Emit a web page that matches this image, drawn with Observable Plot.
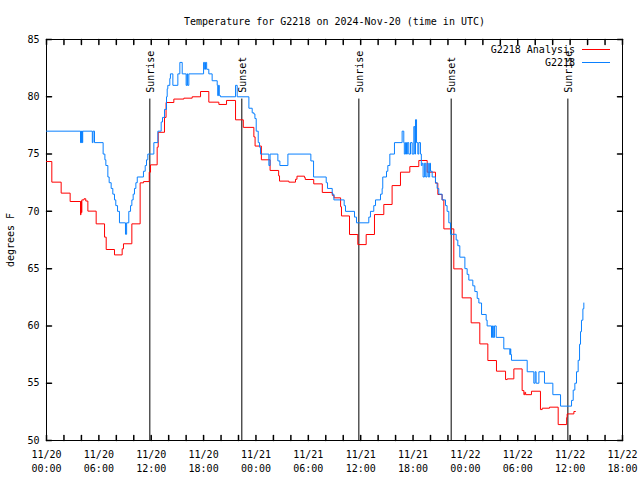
<!DOCTYPE html>
<html><head><meta charset="utf-8">
<script src="https://cdn.jsdelivr.net/npm/d3@7"></script>
<script src="https://cdn.jsdelivr.net/npm/@observablehq/plot@0.6"></script>
<style>body{margin:0;background:#fff}</style>
</head><body><div id="chart"></div>
<script>
const title = "Temperature for G2218 on 2024-Nov-20 (time in UTC)";
const yLabel = "degrees F";
const seriesNames = ["G2218 Analysis", "G2218"];
const seriesColors = ["#ff0000", "#0a80ff"];
const xTickHours = [0, 6, 12, 18, 24, 30, 36, 42, 48, 54, 60, 66];
const xTickLabels = ["11/20\n00:00", "11/20\n06:00", "11/20\n12:00", "11/20\n18:00",
  "11/21\n00:00", "11/21\n06:00", "11/21\n12:00", "11/21\n18:00",
  "11/22\n00:00", "11/22\n06:00", "11/22\n12:00", "11/22\n18:00"];
const xMinorHours = d3.range(0, 67, 2);
const yTicks = [50, 55, 60, 65, 70, 75, 80, 85];
const sunHours = [11.84, 22.38, 35.79, 46.37, 59.74];
const sunLabels = ["Sunrise", "Sunset", "Sunrise", "Sunset", "Sunrise"];

// hours since 2024-11-20 00:00 UTC
const analysisHours = [0, 0.61, 1.68, 2.71, 3.90, 3.95, 4.00, 4.05, 4.30, 4.50, 4.74, 5.69, 6.65, 6.84, 7.79, 8.67, 8.82, 9.78, 10.73, 11.12, 11.77, 11.92, 12.68, 12.80, 13.52, 13.70, 14.59, 15.74, 16.69, 17.65, 18.60, 19.75, 20.63, 21.66, 22.55, 23.76, 23.90, 24.62, 25.62, 26.60, 26.70, 27.77, 28.53, 28.70, 29.56, 29.65, 30.62, 31.60, 32.75, 32.95, 33.70, 33.80, 34.72, 35.67, 36.63, 37.58, 38.65, 39.60, 40.56, 41.63, 42.66, 43.62, 44.57, 44.84, 45.33, 45.53, 46.67, 47.63, 48.66, 49.65, 50.57, 51.56, 52.60, 52.79, 53.55, 54.50, 54.70, 54.80, 54.90, 55.57, 56.60, 56.80, 57.64, 58.63, 59.60, 59.66, 60.43, 60.62];
const analysisTemps = [74.35, 72.55, 71.59, 70.86, 69.7, 70.9, 69.9, 71.0, 71.1, 70.9, 70.02, 68.91, 67.75, 66.67, 66.2, 66.73, 67.17, 68.91, 72.49, 72.6, 73.42, 74.06, 75.6, 76.9, 78.2, 79.5, 79.8, 79.88, 80.0, 80.46, 79.53, 79.33, 79.68, 77.99, 77.33, 76.5, 75.7, 74.5, 73.57, 73.1, 72.64, 72.55, 72.8, 73.07, 72.95, 72.78, 72.4, 71.65, 71.4, 71.18, 70.4, 69.6, 67.98, 67.1, 67.98, 69.72, 70.6, 72.25, 73.42, 73.91, 74.44, 73.42, 72.46, 71.47, 71.0, 68.47, 64.98, 62.45, 60.27, 58.43, 56.98, 56.05, 55.32, 55.38, 56.25, 54.36, 54.0, 54.2, 54.0, 54.3, 52.7, 52.82, 52.91, 51.39, 52.0, 52.32, 52.53, 52.53];

const obsHours = [0, 3.90, 3.95, 4.00, 4.05, 4.10, 4.15, 5.25, 5.33, 5.50, 6.49, 6.69, 6.80, 7.03, 7.18, 7.41, 7.60, 7.79, 7.94, 8.14, 8.36, 9.05, 9.18, 9.43, 9.63, 9.78, 9.93, 10.08, 10.24, 10.40, 11.11, 11.31, 11.46, 11.61, 12.30, 12.76, 13.14, 13.29, 13.52, 13.75, 13.83, 13.90, 14.13, 14.20, 14.48, 15.05, 15.28, 15.55, 16.00, 16.10, 16.17, 16.31, 18.00, 18.12, 18.22, 18.35, 18.60, 18.98, 19.56, 19.62, 19.70, 19.80, 19.94, 21.66, 21.85, 23.19, 23.57, 23.76, 23.88, 24.03, 24.26, 24.41, 24.52, 25.48, 25.62, 26.51, 26.74, 27.66, 30.29, 30.60, 32.05, 32.20, 32.74, 32.93, 34.11, 34.26, 35.29, 35.52, 36.93, 37.12, 37.50, 37.70, 38.27, 38.46, 38.53, 38.96, 39.11, 39.34, 39.87, 40.75, 40.94, 41.00, 41.13, 41.25, 41.35, 41.51, 41.71, 41.90, 42.09, 42.20, 42.28, 42.40, 42.55, 42.66, 42.85, 42.95, 43.04, 43.15, 43.30, 43.45, 43.60, 43.75, 43.90, 44.00, 44.19, 44.57, 44.76, 44.95, 45.33, 45.72, 45.90, 46.10, 46.29, 46.94, 47.13, 47.36, 47.94, 48.20, 48.39, 48.85, 49.08, 49.35, 49.54, 49.85, 50.38, 50.49, 50.99, 51.10, 51.20, 51.33, 51.53, 52.40, 53.09, 53.15, 53.20, 53.28, 55.08, 55.84, 55.99, 56.10, 56.42, 57.06, 58.02, 58.90, 60.16, 60.35, 60.54, 60.73, 60.92, 61.08, 61.19, 61.30, 61.46, 61.57];
const obsTemps = [77, 76, 77, 76, 77, 76, 77, 76, 77, 76, 75, 74.5, 74, 73, 72.5, 72, 71.5, 71, 70.5, 70, 69, 68, 69, 70, 70.5, 71, 71.5, 72, 72.5, 73, 73.5, 74, 74.5, 75, 76, 77, 77.8, 78.2, 78.9, 80, 80.7, 81, 81.6, 82, 81, 82, 83, 82, 81, 82, 81, 82, 83, 82.4, 83, 82.4, 82, 81.4, 81, 80.1, 81, 80.1, 80, 81, 80, 79, 78.6, 78.5, 78.1, 77, 76, 75.6, 75, 74, 75, 74.4, 74, 75, 74.4, 73, 72.5, 72, 71.5, 71, 70.5, 70, 69.5, 69, 69.5, 70, 70.5, 71, 71.5, 72, 73, 73.5, 74, 75, 76, 77, 76, 75, 76, 75, 76, 75, 76, 75, 77.4, 75, 78, 76, 75, 76, 75, 74, 74.2, 73, 74.2, 73, 74.2, 73, 74.2, 73.5, 73, 72.5, 72, 71.5, 71, 70.5, 70, 69, 68, 67.5, 67, 66, 65, 64.5, 64, 63.5, 63, 62.4, 62, 61, 60.5, 60, 59, 60, 59, 60, 59, 58, 57.5, 58, 57.5, 57, 56, 55, 56, 55, 56, 55, 54, 53, 53.5, 54.4, 55, 56, 57, 58.4, 59.5, 60.5, 61.5, 62];

const analysis = analysisHours.map((h, i) => ({h, t: analysisTemps[i]}));
const obs = obsHours.map((h, i) => ({h, t: obsTemps[i]}));
const sun = sunHours.map((h, i) => ({h, label: sunLabels[i]}));

const font = "'DejaVu Sans Mono', monospace";
const tickShape = {draw(ctx, l) { ctx.moveTo(0, 0); ctx.lineTo(0, -l); }};

const legend = (index, scales, values, dims) => {
  const g = d3.create("svg:g").attr("font-family", font).attr("font-size", 10);
  const xr = dims.width - dims.marginRight;
  seriesNames.forEach((name, i) => {
    const y = Math.round(dims.marginTop + 10 + i * 12.5) + 0.5;
    g.append("text").attr("x", xr - 47).attr("y", y).attr("dy", "0.32em")
      .attr("text-anchor", "end").attr("fill", "black").text(name);
    g.append("line").attr("x1", xr - 40).attr("x2", xr - 12).attr("y1", y).attr("y2", y)
      .attr("stroke", seriesColors[i]).attr("stroke-width", 1);
  });
  return g.node();
};

const chart = Plot.plot({
  width: 640, height: 480,
  marginTop: 39, marginBottom: 40, marginLeft: 46, marginRight: 18,
  style: {fontFamily: font, fontSize: "10px", background: "white", color: "black"},
  x: {domain: [0, 66]},
  y: {domain: [50, 85]},
  marks: [
    Plot.frame({stroke: "black"}),
    Plot.ruleX(sun, {x: "h", y1: 50, y2: 79.8, stroke: "black", strokeWidth: 1}),
    Plot.text(sun, {x: "h", y: 80.35, text: "label", rotate: -90, textAnchor: "start", lineAnchor: "middle", dx: 1, fill: "black"}),
    Plot.line(analysis, {x: "h", y: "t", stroke: seriesColors[0], strokeWidth: 1, curve: "step-after"}),
    Plot.line(obs, {x: "h", y: "t", stroke: seriesColors[1], strokeWidth: 1, curve: "step-after"}),
    Plot.vector(xMinorHours, {x: d => d, y: 50, length: 5, rotate: 0, anchor: "start", shape: tickShape, stroke: "black"}),
    Plot.vector(xMinorHours, {x: d => d, y: 85, length: 5, rotate: 180, anchor: "start", shape: tickShape, stroke: "black"}),
    Plot.vector(yTicks, {x: 0, y: d => d, length: 5, rotate: 90, anchor: "start", shape: tickShape, stroke: "black"}),
    Plot.vector(yTicks, {x: 66, y: d => d, length: 5, rotate: -90, anchor: "start", shape: tickShape, stroke: "black"}),
    Plot.axisX(xTickHours, {anchor: "bottom", tickSize: 0, tickPadding: 8, label: null,
      tickFormat: d => xTickLabels[xTickHours.indexOf(d)], lineHeight: 1.35, fill: "black"}),
    Plot.axisY(yTicks, {anchor: "left", tickSize: 0, tickPadding: 7, label: null, fill: "black"}),
    Plot.text([title], {frameAnchor: "top", dy: -18, lineAnchor: "middle", text: d => d, fill: "black"}),
    Plot.text([yLabel], {frameAnchor: "left", dx: -36, rotate: -90, textAnchor: "middle", lineAnchor: "middle", text: d => d, fill: "black"}),
    legend
  ]
});
document.getElementById("chart").appendChild(chart);
</script>
</body></html>
